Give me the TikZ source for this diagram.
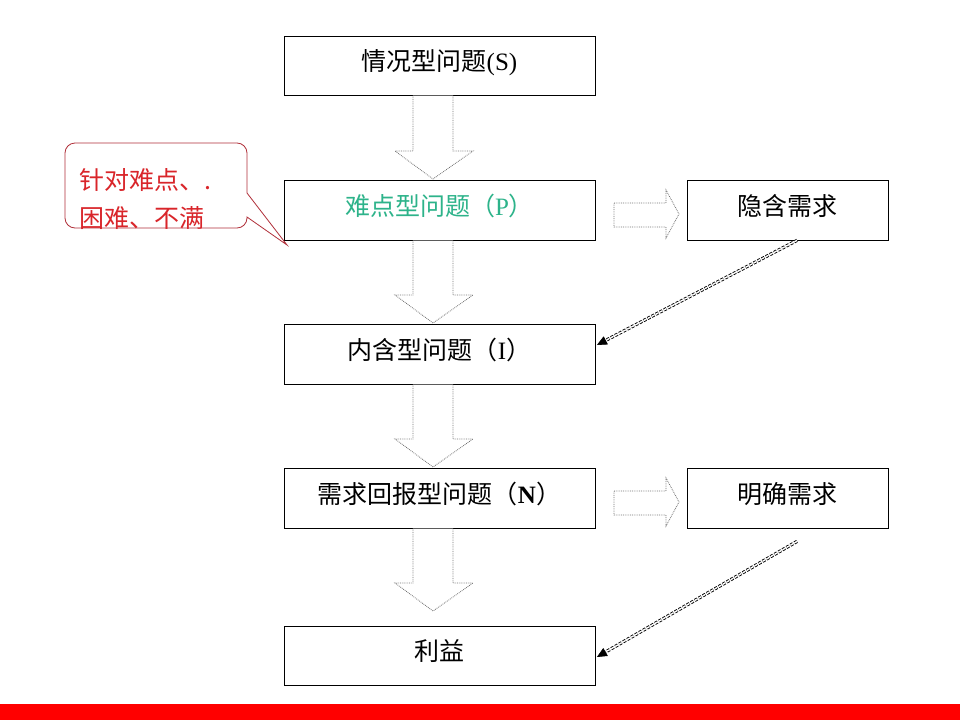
\documentclass[tikz,border=0pt]{standalone}
\usepackage{fontspec}
\setmainfont{Noto Sans CJK SC}
\newfontfamily\lat{Liberation Serif}
\usetikzlibrary{arrows.meta,calc}
\definecolor{pgreen}{HTML}{2DB38A}
\definecolor{cred}{HTML}{D9252A}
\definecolor{cline}{HTML}{B0303A}
\tikzset{
  box/.style={draw=black, line width=0.8pt, minimum width=311pt, inner sep=0pt, text height=23pt, text depth=13pt, font=\fontsize{25}{30}\selectfont},
  rbox/.style={draw=black, line width=0.8pt, minimum width=201pt, minimum height=60pt, inner sep=0pt, text height=23pt, text depth=13pt, font=\fontsize{25}{30}\selectfont},
  blockarrow/.style={draw=black!55, line width=0.8pt, densely dotted, fill=white},
  dbl/.style={draw=black, line width=0.9pt, double=white, double distance=1.4pt, dash pattern=on 3pt off 1.6pt},
  tip/.style={-{Triangle[length=10pt,width=9pt]}, line width=0.6pt},
  callout/.style={draw=cline, line width=0.8pt},
  ctext/.style={anchor=west, text=cred, font=\fontsize{25}{30}\selectfont, inner sep=0pt},
}
\begin{document}
\begin{tikzpicture}[x=1pt,y=-1pt]
\useasboundingbox (0,0) rectangle (960,720);
\fill[white] (0,0) rectangle (960,720);
\fill[red] (0,704) rectangle (960,720);

% main boxes
\node[box, minimum height=59pt] (S) at (439.5,65.5) {情况型问题{\lat (S)}};
\node[box, minimum height=60pt, text=pgreen] (P) at (439.5,210) {难点型问题（{\lat P}）};
\node[box, minimum height=60pt] (I) at (439.5,354) {内含型问题（{\lat I}）};
\node[box, minimum height=60pt] (N) at (439.5,498) {需求回报型问题（{\lat\bfseries N}）};
\node[box, minimum height=59pt] (B) at (439.5,655.5) {利益};
% right boxes
\node[rbox] (H) at (787.5,210) {隐含需求};
\node[rbox] (E) at (787.5,498) {明确需求};

% down block arrows
\draw[blockarrow] (413,95.5) -- (413,151) -- (395,151) -- (433,179) -- (473,151) -- (453,151) -- (453,95.5);
\draw[blockarrow] (413,240.5) -- (413,295) -- (395,295) -- (433,323) -- (473,295) -- (453,295) -- (453,240.5);
\draw[blockarrow] (413,384.5) -- (413,439) -- (395,439) -- (433,467) -- (473,439) -- (453,439) -- (453,384.5);
\draw[blockarrow] (413,528.5) -- (413,583) -- (395,583) -- (433,611) -- (473,583) -- (453,583) -- (453,528.5);

% right block arrows
\draw[blockarrow] (614,203) -- (666,203) -- (666,190) -- (679,214) -- (666,238) -- (666,227) -- (614,227) -- cycle;
\draw[blockarrow] (614,491) -- (666,491) -- (666,478) -- (679,502) -- (666,526) -- (666,515) -- (614,515) -- cycle;

% dashed connectors
\coordinate (h1) at ($(H.south)+(9.5,0)$);
\coordinate (i1) at ($(I.east)+(1.5,-9)$);
\coordinate (e1) at ($(E.south)+(9.5,13)$);
\coordinate (b1) at ($(B.east)+(1.5,1.5)$);
\draw[dbl] (h1) -- ($(i1)!8pt!(h1)$);
\draw[tip] ($(i1)!10pt!(h1)$) -- (i1);
\draw[dbl] (e1) -- ($(b1)!8pt!(e1)$);
\draw[tip] ($(b1)!10pt!(e1)$) -- (b1);

% callout
\coordinate (ct) at (287,245);
\draw[callout] (247,193) -- (ct) -- (247,217) [rounded corners=10pt] -- (247,228) -- (65,228) -- (65,143) -- (247,143) -- (247,193);
\node[ctext] (c1) at (79,180) {针对难点、.};
\node[ctext] (c2) at (79,218) {困难、不满};
\end{tikzpicture}
\end{document}
